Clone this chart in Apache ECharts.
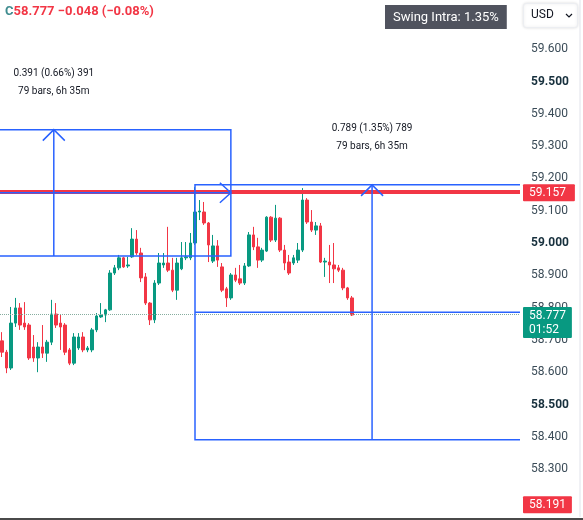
<!DOCTYPE html>
<html><head><meta charset="utf-8">
<script src="https://cdn.jsdelivr.net/npm/echarts@6/dist/echarts.min.js"></script>
<style>html,body{margin:0;padding:0;background:#fff;}#c{width:583px;height:520px;}</style>
</head><body><div id="c"></div>
<script>
// ---- data (5-minute bars) ----
const opens  = [58.697,58.662,58.613,58.752,58.799,58.752,58.746,58.678,58.644,58.678,58.659,58.693,58.780,58.752,58.746,58.669,58.628,58.675,58.709,58.669,
                58.669,58.731,58.771,58.777,58.793,58.907,58.923,58.954,58.929,58.957,59.012,58.969,58.895,58.814,58.762,58.876,58.932,58.938,58.916,58.854,
                58.920,58.954,58.954,59.000,59.096,59.096,59.062,58.944,58.991,58.926,58.858,58.830,58.901,58.889,58.876,58.929,59.025,58.988,58.947,58.975,
                59.080,59.009,59.077,58.978,58.941,58.938,58.947,58.978,59.133,59.065,59.040,59.053,58.941,58.941,58.932,58.923,58.916,58.861,58.830];
const closes = [58.662,58.613,58.752,58.799,58.746,58.740,58.644,58.644,58.678,58.659,58.693,58.780,58.746,58.740,58.662,58.628,58.709,58.709,58.669,58.675,
                58.731,58.774,58.777,58.793,58.907,58.923,58.954,58.926,58.932,59.012,58.969,58.892,58.814,58.762,58.876,58.938,58.938,58.916,58.854,58.938,
                58.954,58.957,59.000,59.096,59.099,59.062,58.994,58.991,58.947,58.854,58.830,58.901,58.885,58.876,58.929,59.025,58.988,58.947,58.978,59.080,
                59.009,59.077,58.978,58.938,58.907,58.954,58.978,59.133,59.065,59.040,59.053,58.941,58.944,58.932,58.920,58.916,58.861,58.830,58.777];
const lows   = [58.647,58.597,58.607,58.740,58.731,58.731,58.638,58.632,58.600,58.644,58.632,58.684,58.737,58.669,58.653,58.622,58.622,58.669,58.662,58.662,
                58.662,58.724,58.768,58.755,58.790,58.901,58.916,58.923,58.923,58.954,58.963,58.879,58.808,58.746,58.752,58.870,58.923,58.910,58.848,58.824,
                58.916,58.947,58.947,58.994,59.071,59.056,58.941,58.938,58.926,58.848,58.802,58.824,58.879,58.870,58.870,58.926,58.978,58.923,58.941,58.972,
                59.003,59.003,58.972,58.916,58.901,58.932,58.938,58.972,59.059,59.034,59.025,58.938,58.895,58.876,58.876,58.910,58.854,58.824,58.774];
const highs  = [58.724,58.669,58.802,58.830,58.814,58.817,58.752,58.715,58.693,58.746,58.700,58.824,58.814,58.777,58.752,58.675,58.721,58.721,58.724,58.681,
                58.737,58.783,58.814,58.796,58.916,58.932,58.963,58.957,58.957,59.046,59.040,58.985,58.907,58.817,58.885,58.969,58.969,59.050,58.954,58.954,
                59.003,59.003,59.031,59.173,59.133,59.127,59.065,59.025,59.009,58.938,58.864,58.907,58.923,58.932,58.938,59.034,59.050,59.016,58.985,59.083,
                59.083,59.118,59.080,58.994,58.963,58.963,59.000,59.170,59.139,59.102,59.065,59.062,58.954,58.994,59.000,58.932,58.923,58.864,58.836];
const totalSlots = 116; // visible bar slots incl. empty space to the right
const categories = Array.from({length: totalSlots}, (_, i) => 'bar ' + (i + 1));

// price-scale tick labels
const tickLabels = ['59.600','59.500','59.400','59.300','59.200','59.100','59.000','58.900','58.800','58.700','58.600','58.500','58.400','58.300'];
const boldTicks  = ['59.500','59.000','58.500'];

// horizontal lines
const resistanceLevel = 59.157;
const lastPrice = 58.777;

// date & price range drawings
const rangeStartBar = [-28, 43];
const rangeEndBar   = [51, 122];
const rangeLow      = [58.960, 58.391];
const rangeHigh     = [59.351, 59.180];
const rangeText1    = ['0.391 (0.66%) 391', '0.789 (1.35%) 789'];
const rangeText2    = ['79 bars, 6h 35m', '79 bars, 6h 35m'];

// price tags on the scale
const tagPrices = [59.157, 58.777, 58.191];
const tagTexts  = ['59.157', '58.777\n01:52', '58.191'];

// header
const headerClose = '58.777';
const headerChange = '−0.048 (−0.08%)';
const swingText = 'Swing Intra: 1.35%';

const GREEN = '#089981', RED = '#f23645', BLUE = '#2962ff';
const FONT = 'Roboto, "Noto Sans", sans-serif';
const tagColors = [RED, GREEN, RED];
const tagPadR = [9, 6, 6];

const chart = echarts.init(document.getElementById('c'), null, {renderer: 'canvas'});
const candleData = opens.map((o, i) => [o, closes[i], lows[i], highs[i]]);
const rangeData = rangeStartBar.map((s, i) => [s, rangeEndBar[i], rangeLow[i], rangeHigh[i], i]);
const tagData = tagPrices.map((p, i) => [0, p, i]);

chart.setOption({
  animation: false,
  backgroundColor: '#ffffff',
  title: [
    { text: '{c|C}{r|' + headerClose + ' ' + headerChange + '}', left: 5, top: 5, padding: 0,
      textStyle: { rich: { c: { color: '#3f8c8f', fontSize: 13, fontFamily: FONT }, r: { color: RED, fontSize: 13, fontFamily: FONT } } } },
    { text: swingText, left: 385, top: 5, backgroundColor: '#50535e', padding: [6, 8, 5, 8],
      textStyle: { color: '#ffffff', fontSize: 13, fontWeight: 'normal', fontFamily: FONT } }
  ],
  graphic: [
    { type: 'rect', left: 523, top: 3, shape: { width: 54, height: 24, r: 3 }, style: { fill: '#ffffff', stroke: '#eceef2', lineWidth: 1, shadowBlur: 3, shadowColor: 'rgba(0,0,0,0.12)' } },
    { type: 'text', left: 531, top: 9, style: { text: 'USD', fill: '#131722', font: '12px ' + FONT } },
    { type: 'polyline', shape: { points: [[566, 14], [569, 17], [572, 14]] }, style: { stroke: '#131722', lineWidth: 1.2, fill: null } },
    { type: 'line', shape: { x1: 580, y1: 0, x2: 580, y2: 517 }, style: { stroke: '#e0e3eb', lineWidth: 1 } },
    { type: 'line', shape: { x1: 0, y1: 519, x2: 583, y2: 519 }, style: { stroke: '#4a4a4a', lineWidth: 2 } }
  ],
  grid: { left: 0, top: 16.9, width: 520, height: 484.5, containLabel: false },
  xAxis: [
    { type: 'category', data: categories, boundaryGap: true, show: false },
    { type: 'value', min: -0.5, max: totalSlots - 0.5, show: false }
  ],
  yAxis: {
    type: 'value', position: 'right', min: 58.2, max: 59.7, interval: 0.1, scale: true,
    axisLine: { show: false }, axisTick: { show: false }, splitLine: { show: false },
    axisLabel: {
      margin: 11,
      formatter: function (v) {
        const s = v.toFixed(3);
        if (tickLabels.indexOf(s) < 0) return '';
        return boldTicks.indexOf(s) >= 0 ? '{b|' + s + '}' : '{n|' + s + '}';
      },
      rich: {
        n: { color: '#3b4c58', fontSize: 12, fontFamily: FONT },
        b: { color: '#17303d', fontSize: 12, fontWeight: 'bold', fontFamily: FONT }
      }
    }
  },
  series: [
    {
      type: 'candlestick', xAxisIndex: 0, yAxisIndex: 0, data: candleData, barWidth: 3,
      itemStyle: { color: GREEN, color0: RED, borderColor: GREEN, borderColor0: RED, borderWidth: 1 },
      markLine: {
        silent: true, symbol: ['none', 'none'], label: { show: false }, animation: false,
        data: [
          { yAxis: lastPrice, lineStyle: { color: '#86ad9f', type: 'dotted', width: 1 } },
          { yAxis: resistanceLevel, lineStyle: { color: RED, type: 'solid', width: 4 } }
        ]
      }
    },
    {
      type: 'custom', xAxisIndex: 1, yAxisIndex: 0, data: rangeData, clip: true, z: 5, silent: true,
      encode: { x: [0, 1], y: [2, 3] },
      renderItem: function (params, api) {
        const i = api.value(4);
        const tl = api.coord([api.value(0), api.value(3)]);
        const br = api.coord([api.value(1), api.value(2)]);
        const x0 = tl[0], y0 = tl[1], x1 = br[0], y1 = br[1];
        const mx = (x0 + x1) / 2, my = (y0 + y1) / 2;
        const ls = { stroke: BLUE, lineWidth: 1.5, fill: null };
        return { type: 'group', children: [
          { type: 'rect', shape: { x: x0, y: y0, width: x1 - x0, height: y1 - y0 }, style: { stroke: BLUE, lineWidth: 1.5, fill: 'rgba(0,0,0,0)' } },
          { type: 'line', shape: { x1: mx, y1: y1, x2: mx, y2: y0 }, style: ls },
          { type: 'polyline', shape: { points: [[mx - 11, y0 + 11], [mx, y0], [mx + 11, y0 + 11]] }, style: ls },
          { type: 'line', shape: { x1: x0, y1: my, x2: x1, y2: my }, style: ls },
          { type: 'polyline', shape: { points: [[x1 - 11, my - 10], [x1, my], [x1 - 11, my + 10]] }, style: ls },
          { type: 'text', style: { text: rangeText1[i], x: mx, y: y0 - 56, align: 'center', verticalAlign: 'middle', fill: '#131722', font: '10px ' + FONT } },
          { type: 'text', style: { text: rangeText2[i], x: mx, y: y0 - 38, align: 'center', verticalAlign: 'middle', fill: '#131722', font: '10px ' + FONT } }
        ] };
      }
    },
    {
      type: 'custom', xAxisIndex: 1, yAxisIndex: 0, data: tagData, z: 10, silent: true,
      encode: { x: 0, y: 1 },
      renderItem: function (params, api) {
        const i = api.value(2);
        const p = api.coord([0, api.value(1)]);
        const cs = params.coordSys;
        return { type: 'text', style: {
          text: tagTexts[i], x: cs.x + cs.width + 3, y: p[1] - 8, verticalAlign: 'top', align: 'left',
          fill: '#ffffff', font: '12px ' + FONT, lineHeight: 14,
          backgroundColor: tagColors[i], padding: [2, tagPadR[i], 1, 6], borderRadius: 1
        } };
      }
    }
  ]
});
</script></body></html>
